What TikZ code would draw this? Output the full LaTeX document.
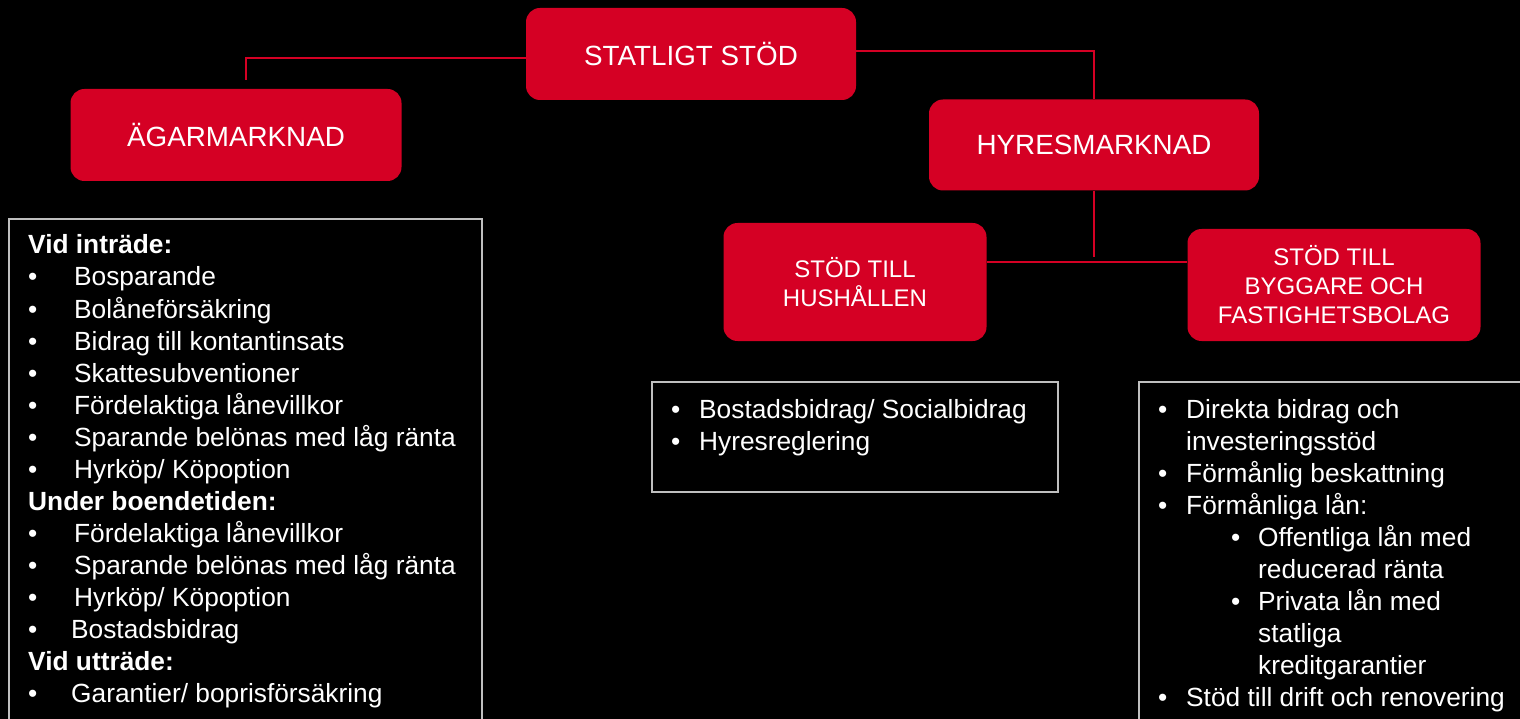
\documentclass[tikz,border=0pt]{standalone}
\usepackage{fontspec}
\setmainfont{Liberation Sans}
\definecolor{boxred}{RGB}{213,0,36}
\definecolor{framegray}{RGB}{191,191,191}
\newcommand{\listbul}[2]{\makebox[#1][l]{\textbullet}#2}

\begin{document}
\begin{tikzpicture}[x=1pt, y=-1pt,
  redbox/.style={rectangle, rounded corners=14pt, fill=boxred, text=white, inner sep=0pt, align=center},
  wire/.style={draw=boxred, line width=1.5pt},
  frame/.style={draw=framegray, line width=1.8pt},
  item/.style={anchor=base west, inner sep=0pt, text=white, font=\fontsize{26.3}{32}\selectfont}]

\fill[black] (0,0) rectangle (1520,719);
\useasboundingbox (0,0) rectangle (1520,719);

\begin{scope}[font=\fontsize{27.8}{32}\selectfont]
  \node[redbox, minimum width=330pt, minimum height=92pt] (RB_ST) at ( 691, 54) {STATLIGT STÖD};
  \node[redbox, minimum width=331pt, minimum height=92pt] (RB_AG) at ( 236,135) {ÄGARMARKNAD};
  \node[redbox, minimum width=330pt, minimum height=91pt] (RB_HY) at (1094,145) {HYRESMARKNAD};
\end{scope}

\begin{scope}[font=\fontsize{24}{29}\selectfont]
  \node[redbox, minimum width=263pt, minimum height=118pt] (RB_HU) at ( 855,282) {STÖD TILL\\HUSHÅLLEN};
  \node[redbox, minimum width=293pt, minimum height=112pt] (RB_BY) at (1334,285) {STÖD TILL\\BYGGARE OCH\\FASTIGHETSBOLAG};
\end{scope}

\coordinate (AG_end) at ( 246, 80);
\coordinate (HY_end) at (1094,257);
\coordinate (HY_bar) at (1094,262);

\draw[wire] ([yshift=-4pt]RB_ST.west) -| (AG_end);
\draw[wire] ([yshift=3pt]RB_ST.east) -| (RB_HY.north);
\draw[wire] (RB_HY.south) -- (HY_end);
\draw[wire] (RB_HU.east |- HY_bar) -- (RB_BY.west |- HY_bar);

% frames round the lists
\draw[frame] (9,725) -- (9,219) -- (482,219) -- (482,725);
\draw[frame] (652,382) rectangle (1058,492);
\draw[frame] (1139,725) -- (1139,382) -- (1525,382);

\begin{scope}[item]
  \node[item, font=\fontsize{26.3}{32}\selectfont\bfseries] (LB_A) at (28,254) {Vid inträde:};
  \node[item] (LB_B) at (28,286) {\listbul{46pt}{Bosparande}};
  \node[item] (LB_C) at (28,318) {\listbul{46pt}{Bolåneförsäkring}};
  \node[item] (LB_D) at (28,350) {\listbul{46pt}{Bidrag till kontantinsats}};
  \node[item] (LB_E) at (28,382) {\listbul{46pt}{Skattesubventioner}};
  \node[item] (LB_F) at (28,414) {\listbul{46pt}{Fördelaktiga lånevillkor}};
  \node[item] (LB_G) at (28,446) {\listbul{46pt}{Sparande belönas med låg ränta}};
  \node[item] (LB_H) at (28,478) {\listbul{46pt}{Hyrköp/ Köpoption}};
  \node[item, font=\fontsize{26.3}{32}\selectfont\bfseries] (LB_I) at (28,510) {Under boendetiden:};
  \node[item] (LB_J) at (28,542) {\listbul{46pt}{Fördelaktiga lånevillkor}};
  \node[item] (LB_K) at (28,574) {\listbul{46pt}{Sparande belönas med låg ränta}};
  \node[item] (LB_L) at (28,606) {\listbul{46pt}{Hyrköp/ Köpoption}};
  \node[item] (LB_M) at (28,638) {\listbul{43pt}{Bostadsbidrag}};
  \node[item, font=\fontsize{26.3}{32}\selectfont\bfseries] (LB_N) at (28,670) {Vid utträde:};
  \node[item] (LB_O) at (28,702) {\listbul{43pt}{Garantier/ boprisförsäkring}};
\end{scope}

\begin{scope}[item]
  \node[item] (MB_A) at (671,418) {\listbul{28pt}{Bostadsbidrag/ Socialbidrag}};
  \node[item] (MB_B) at (671,450) {\listbul{28pt}{Hyresreglering}};
\end{scope}

\begin{scope}[item]
  \node[item] (HB_A) at (1158,418) {\listbul{28pt}{Direkta bidrag och}};
  \node[item] (HB_B) at (1186,450) {investeringsstöd};
  \node[item] (HB_C) at (1158,482) {\listbul{28pt}{Förmånlig beskattning}};
  \node[item] (HB_D) at (1158,514) {\listbul{28pt}{Förmånliga lån:}};
  \node[item] (HB_E) at (1231,546) {\listbul{27pt}{Offentliga lån med}};
  \node[item] (HB_F) at (1258,578) {reducerad ränta};
  \node[item] (HB_G) at (1231,610) {\listbul{27pt}{Privata lån med}};
  \node[item] (HB_H) at (1258,642) {statliga};
  \node[item] (HB_I) at (1258,674) {kreditgarantier};
  \node[item] (HB_J) at (1158,706) {\listbul{28pt}{Stöd till drift och renovering}};
\end{scope}

\end{tikzpicture}
\end{document}
